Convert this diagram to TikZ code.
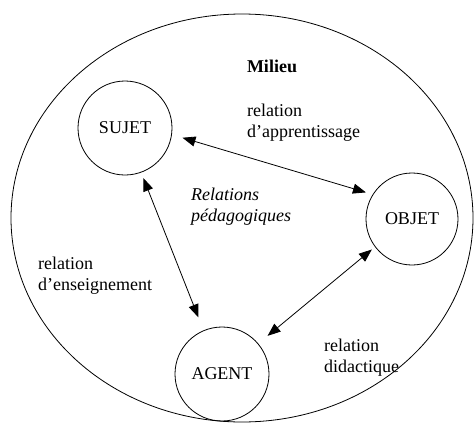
\documentclass[tikz,border=0pt]{standalone}
\usepackage{fontspec}
\setmainfont{Liberation Serif}
\usetikzlibrary{arrows.meta,shapes.geometric}
\begin{document}
\begin{tikzpicture}[x=1pt,y=-1pt,
  every node/.style={font=\fontsize{18}{21}\selectfont, inner sep=0pt},
  pole/.style={draw, circle, line width=0.8pt, minimum size=94pt},
  lbl/.style={align=left, anchor=west},
  arr/.style={line width=0.8pt, {Triangle[length=13pt,width=10pt]}-{Triangle[length=13pt,width=10pt]}}]
\useasboundingbox (0,0) rectangle (475,424);
\node[draw, ellipse, line width=0.8pt, minimum width=462pt, minimum height=408pt] (milieu) at (242,218) {};
\node[pole] (sujet) at (125,128) {SUJET};
\node[pole, minimum size=92pt] (objet) at (412,219) {OBJET};
\node[pole] (agent) at (222,374) {AGENT};
\node (titre) at (272,66) {\bfseries Milieu};
\node[lbl] (la) at (247,123) {relation\\d'apprentissage};
\node[lbl] (lp) at (191,207) {\itshape Relations\\\itshape pédagogiques};
\node[lbl] (le) at (38,276) {relation\\d'enseignement};
\node[lbl] (ld) at (324,358) {relation\\didactique};
\draw[arr, shorten <=11pt, shorten >=7pt] (sujet.-8) -- (objet.148);
\draw[arr, shorten <=6pt, shorten >=14pt] (sujet.-70) -- (agent.113);
\draw[arr, shorten <=4pt, shorten >=12pt] (objet.217) -- (agent.40);
\end{tikzpicture}
\end{document}
